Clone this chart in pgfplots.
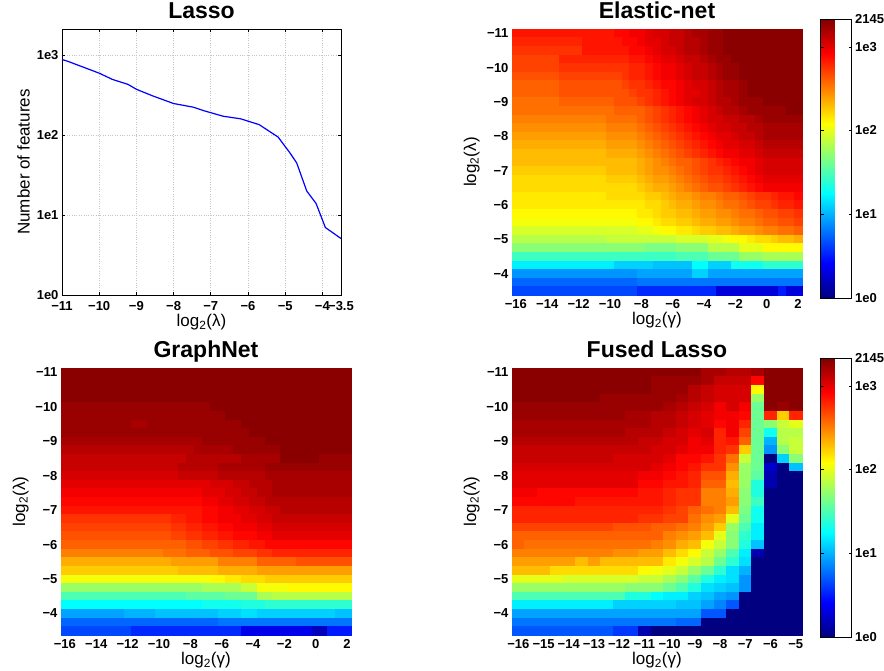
\documentclass[border=0pt]{standalone}
\usepackage{fontspec}
\setmainfont{Liberation Sans}
\usepackage{pgfplots}
\usepackage{pgfplotstable}
\pgfplotsset{compat=1.18}

% values: 20*log10(number of features); rows lambda=-11..-3.5 (step .25), cols gamma
\pgfplotstableread[header=false]{
57 57 57 57 57 57 57 57 57 57 57 57 57 58 58 59 59 60 61 61 62 62 63 64 64 65 65 66 66 66 66 66 66 66 66 66 66
56 56 56 56 56 56 56 56 56 57 57 57 57 57 58 58 59 60 60 61 62 62 63 63 64 65 65 66 66 66 66 66 66 66 66 66 66
55 55 55 55 55 55 55 55 55 57 57 57 57 57 57 58 58 59 60 61 61 62 63 63 64 65 65 66 66 66 66 66 66 66 66 66 66
54 54 54 54 54 54 56 56 56 56 56 56 56 56 56 57 57 58 59 60 60 61 62 62 63 64 65 65 66 66 66 66 66 66 66 66 66
54 54 54 54 54 54 55 55 55 55 55 55 55 55 55 56 56 57 58 59 59 60 61 62 62 63 64 65 65 66 66 66 66 66 66 66 66
53 53 53 53 53 53 54 54 54 54 54 54 54 54 55 56 56 57 58 59 59 60 61 62 62 63 64 65 65 66 66 66 66 66 66 66 66
52 52 52 52 52 52 53 53 53 53 53 53 53 53 54 55 55 56 57 58 58 59 60 61 61 62 63 64 64 65 66 66 66 66 66 66 66
52 52 52 52 52 52 53 53 53 53 53 53 53 53 53 54 55 55 56 57 58 59 60 60 61 62 63 64 64 65 66 66 66 66 66 66 66
51 51 51 51 51 51 52 52 52 52 52 52 52 53 53 53 54 55 56 57 58 59 60 61 61 62 63 63 64 65 65 65 66 66 66 66 66
51 51 51 51 51 51 51 51 51 51 51 51 51 52 52 52 52 53 54 55 56 57 58 59 60 61 62 63 63 64 65 65 65 65 65 66 66
50 50 50 50 50 50 50 50 50 50 50 50 51 51 51 51 52 53 54 55 56 57 58 59 60 61 61 62 62 63 63 64 65 65 65 65 65
49 49 49 49 49 49 49 49 49 49 49 49 50 50 50 50 51 52 53 54 55 56 57 58 59 60 61 61 62 62 63 63 64 64 64 64 64
48 48 48 48 48 48 48 48 48 48 48 48 49 49 49 49 50 51 52 53 54 55 56 57 58 59 60 60 61 62 62 63 64 64 64 64 64
47 47 47 47 47 47 47 47 47 47 47 47 48 48 48 48 49 50 51 52 53 54 55 56 57 58 59 60 60 61 61 62 63 63 63 63 63
46 46 46 46 46 46 46 46 46 46 46 46 47 47 47 47 48 49 50 51 52 53 54 55 56 57 58 59 59 60 60 61 62 62 62 62 62
46 46 46 46 46 46 46 46 46 46 46 46 46 46 46 46 47 48 49 50 51 52 52 53 54 55 56 57 58 59 59 60 61 61 61 61 61
45 45 45 45 45 45 45 45 45 45 45 45 46 46 46 46 47 48 49 49 50 51 52 53 54 55 55 56 57 58 59 60 61 61 61 61 61
44 44 44 44 44 44 44 44 44 44 44 44 45 45 45 45 46 47 48 48 49 50 51 52 53 54 54 55 56 57 58 59 60 60 60 60 60
44 44 44 44 44 44 44 44 44 44 44 44 44 44 44 44 45 46 47 47 48 49 50 51 52 53 53 54 55 56 57 58 59 59 59 59 59
43 43 43 43 43 43 43 43 43 43 43 43 44 44 44 44 44 45 45 46 47 48 48 49 50 50 51 52 52 53 54 55 55 56 57 57 58
43 43 43 43 43 43 43 43 43 43 43 43 43 43 43 43 43 44 44 45 46 47 47 48 49 49 50 51 51 52 53 54 54 55 56 56 57
42 42 42 42 42 42 42 42 42 42 42 42 42 42 42 42 43 43 44 45 45 46 46 47 48 48 49 49 50 51 51 52 53 53 54 54 55
41 41 41 41 41 41 41 41 41 41 41 41 41 41 41 41 42 42 43 44 44 45 45 46 47 47 48 48 49 50 50 51 52 52 53 53 54
39 39 39 39 39 39 39 39 39 39 39 39 39 39 39 39 40 40 41 42 42 43 43 44 45 45 46 46 47 48 48 49 50 50 51 51 52
37 37 37 37 37 37 37 37 37 37 37 37 38 38 38 38 38 38 38 38 38 39 39 39 39 40 40 41 42 42 43 44 44 45 46 46 47
34 34 34 34 34 34 34 34 34 34 34 34 34 34 34 34 34 33 33 33 33 34 34 34 34 37 37 37 37 40 40 40 42 42 42 42 42
29 29 29 29 29 29 29 29 29 29 29 29 29 29 29 29 29 29 29 29 29 30 30 30 30 32 32 32 32 35 35 35 36 36 36 36 36
24 24 24 24 24 24 24 24 24 24 24 24 24 22 22 22 22 22 21 21 21 21 21 25 25 22 22 22 26 26 26 26 28 28 28 28 28
18 18 18 18 18 18 18 18 18 18 18 18 18 18 18 18 19 19 19 19 19 19 19 22 22 19 19 19 19 19 19 19 19 19 19 19 19
15 15 15 15 15 15 15 15 15 15 15 15 15 15 15 15 16 16 16 16 16 16 16 16 16 16 16 16 16 16 16 16 16 16 16 16 16
13 13 13 13 13 13 13 13 13 13 13 13 13 13 13 13 11 11 11 11 11 11 11 11 11 11 6 6 6 6 6 6 6 6 10 6 6
}\ENtab

\pgfplotstableread[header=false]{
66 66 66 66 66 66 66 66 66 66 66 66 66 66 66 66 66 66 66 66 66 66 66 66 66 66 66 66 66 66 66 66 66 66 66 66 66
66 66 66 66 66 66 66 66 66 66 66 66 66 66 66 66 66 66 66 66 66 66 66 66 66 66 66 66 66 66 66 66 66 66 66 66 66
66 66 66 66 66 66 66 66 66 66 66 66 66 66 66 66 66 66 66 66 66 66 66 66 66 66 66 66 66 66 66 66 66 66 66 66 66
66 66 66 66 66 66 66 66 66 66 66 66 66 66 66 66 66 66 66 66 66 66 66 66 66 66 66 66 66 66 66 66 66 66 66 66 66
65 65 65 65 65 65 65 65 65 65 65 65 65 65 65 65 65 65 65 66 66 66 66 66 66 66 66 66 66 66 66 66 66 66 66 66 66
65 65 65 65 65 65 65 65 65 65 65 65 65 65 65 65 65 65 65 65 65 66 66 66 66 66 66 66 66 66 66 66 66 66 66 66 66
65 65 65 65 65 65 65 65 65 64 64 65 65 65 65 65 65 65 65 65 65 65 65 66 66 66 66 66 66 66 66 66 66 66 66 66 66
65 65 65 65 65 65 65 65 65 65 65 65 65 65 65 65 65 65 65 65 65 65 65 65 66 66 66 66 66 66 66 66 66 66 66 66 66
64 64 64 64 64 64 64 64 64 64 64 64 64 64 64 64 64 64 65 65 65 65 65 65 65 65 66 66 66 66 66 66 66 66 66 66 66
63 63 63 63 63 63 63 63 63 63 63 63 63 63 63 63 63 64 64 64 64 64 65 65 65 65 65 65 66 66 66 66 66 66 66 66 66
62 62 62 62 62 62 62 62 62 62 62 62 62 62 62 62 63 63 63 63 63 63 63 64 64 64 64 64 66 66 66 66 66 65 65 65 65
62 62 62 62 62 62 62 62 62 62 62 62 62 62 62 63 63 63 63 63 64 64 64 64 64 64 65 65 65 65 65 65 65 65 65 65 65
61 61 61 61 61 61 61 61 61 61 61 61 61 61 61 62 62 62 62 62 63 63 63 63 63 63 64 64 64 64 64 64 64 64 64 64 64
60 60 60 60 60 60 60 60 60 60 60 60 60 60 60 60 60 60 60 61 61 61 62 62 63 63 63 64 64 64 64 64 64 64 64 64 64
59 59 59 59 59 59 59 59 59 59 59 59 59 59 59 59 59 59 60 60 60 61 61 62 62 63 63 64 64 64 64 64 64 64 64 64 64
58 58 58 58 58 58 58 58 58 58 58 58 58 58 58 58 58 58 59 59 60 60 61 61 62 62 63 63 63 63 63 63 63 63 63 63 63
57 57 57 57 57 57 57 57 57 57 57 57 57 57 57 57 57 57 58 58 59 59 60 60 61 61 62 62 63 63 63 63 63 63 63 63 63
55 55 55 55 55 55 55 55 55 55 55 55 55 55 56 56 57 57 58 58 59 59 59 60 60 61 61 62 62 62 62 62 62 62 62 62 62
54 54 54 54 54 54 54 54 54 54 54 54 54 54 55 55 56 56 57 57 58 58 59 59 59 60 60 61 61 61 61 61 61 61 61 61 61
53 53 53 53 53 53 53 53 53 53 53 53 53 53 54 54 55 55 56 56 57 57 58 58 58 59 59 60 60 60 60 60 60 60 60 60 60
52 52 52 52 52 52 52 52 52 52 52 52 52 52 52 52 53 53 54 54 55 55 56 56 57 57 58 58 58 58 58 58 58 58 58 58 58
50 50 50 50 50 50 50 50 50 50 50 50 50 51 51 51 52 52 52 53 53 53 54 54 54 55 55 56 56 56 56 56 56 56 56 56 56
47 47 47 47 47 47 47 47 47 47 47 47 47 47 48 48 48 48 48 48 50 50 50 50 50 52 52 52 52 52 53 53 53 53 53 53 53
45 45 45 45 45 45 45 45 45 45 45 45 45 45 45 46 46 46 46 46 47 47 47 47 47 48 48 48 48 48 48 48 48 48 48 48 48
41 41 41 41 41 41 41 41 41 41 41 41 41 41 41 41 41 41 41 42 42 43 43 44 44 44 45 45 45 45 45 45 45 45 45 45 45
35 35 35 35 35 35 35 35 35 35 35 35 35 35 35 35 35 35 36 36 36 36 36 38 38 41 41 41 41 42 42 42 42 42 42 42 42
30 30 30 30 30 30 30 30 30 30 30 30 30 30 30 30 31 31 31 31 31 32 32 32 32 36 36 37 37 37 37 37 37 37 37 37 37
25 25 25 25 25 25 25 25 25 25 25 25 25 25 25 25 25 25 26 26 26 26 26 27 27 27 28 28 28 28 28 28 28 28 28 28 28
19 19 19 19 19 19 19 19 20 20 20 20 21 21 21 21 21 21 21 21 22 22 22 23 23 22 22 22 22 22 22 22 22 22 22 21 21
15 15 15 15 15 15 15 15 15 15 15 15 15 15 15 15 15 15 15 15 16 16 16 16 16 16 16 16 16 16 16 16 16 16 16 16 16
13 13 13 13 13 13 13 13 13 11 11 11 11 11 11 11 11 11 11 11 11 11 11 7 7 7 7 7 7 7 7 7 4 4 10 10 10
}\GNtab

\pgfplotstableread[header=false]{
66 66 66 66 66 66 66 66 66 66 66 66 66 66 66 64 64 63 63 64 66 66 66
66 66 66 66 66 66 66 66 66 66 66 65 65 65 65 64 62 62 62 58 66 66 66
66 66 66 66 66 66 66 66 66 66 66 65 65 65 63 62 61 61 61 42 66 66 66
66 66 66 66 66 66 66 65 65 65 65 65 65 64 63 62 61 61 61 35 66 66 66
65 65 65 65 65 65 65 65 65 65 65 65 64 63 62 61 59 61 59 32 66 65 66
65 65 65 65 65 65 65 65 65 64 64 63 63 62 61 60 59 59 58 32 56 45 56
64 64 64 64 64 64 64 64 64 64 64 63 63 62 61 60 58 59 56 32 34 38 40
64 64 64 64 64 64 64 64 64 63 63 63 62 61 60 61 56 59 54 32 26 37 37
63 63 63 63 63 63 63 63 63 63 62 62 61 61 59 60 56 57 52 32 20 37 38
62 62 62 62 62 62 62 62 62 62 62 61 61 60 59 59 56 55 45 32 18 34 38
62 62 62 62 62 62 62 62 61 61 61 61 60 58 58 57 55 51 38 32 0 22 34
61 61 61 61 61 61 61 61 61 61 61 60 59 58 57 55 55 49 35 32 5 0 21
60 60 60 60 60 60 60 60 60 60 59 59 58 57 56 53 53 47 35 31 3 0 0
60 60 60 60 60 60 60 60 60 60 58 58 57 57 56 52 52 46 35 27 3 0 0
59 59 58 58 58 58 58 58 58 58 57 57 56 55 55 50 50 47 34 27 0 0 0
58 58 58 58 58 57 57 57 57 57 57 57 56 55 55 50 50 48 34 29 0 0 0
56 56 56 56 56 56 56 56 56 56 56 56 55 54 52 51 50 46 33 26 0 0 0
56 56 56 56 56 56 56 56 56 56 55 55 54 54 51 49 48 40 32 26 0 0 0
54 54 54 54 54 54 54 54 53 53 53 52 52 51 50 48 45 35 30 24 0 0 0
52 52 52 52 52 52 52 52 52 52 52 52 50 49 48 46 40 34 28 24 0 0 0
52 51 51 51 51 51 51 51 51 51 51 50 49 47 46 41 38 34 27 21 0 0 0
50 50 50 50 50 50 50 50 49 49 48 48 46 44 42 38 35 30 24 3 0 0 0
48 48 48 48 48 46 48 46 46 46 46 46 43 41 39 37 32 28 23 0 0 0 0
46 46 46 44 44 44 44 44 44 44 42 41 40 38 35 32 28 23 20 0 0 0 0
40 40 40 40 39 39 39 39 39 39 38 38 36 34 31 27 24 23 18 0 0 0 0
35 35 35 35 35 35 35 35 35 34 34 34 32 30 27 23 22 21 18 0 0 0 0
30 30 30 30 30 30 30 30 30 27 27 25 24 24 22 21 19 18 0 0 0 0 0
24 24 24 24 24 24 24 24 22 22 22 22 22 21 21 19 17 14 0 0 0 0 0
19 19 19 19 19 19 19 19 19 19 19 19 19 19 19 14 14 0 0 0 0 0 0
16 16 16 16 16 16 16 16 16 16 16 16 16 15 15 0 0 0 0 0 0 0 0
14 14 14 14 14 14 14 14 12 12 3 0 0 0 0 0 0 0 0 0 0 0 0
}\FLtab

\pgfplotsset{
  panel/.style={
    scale only axis, anchor=south west, enlargelimits=false,
    axis line style={black, line width=0.8pt},
    tick style={black, line width=0.6pt}, major tick length=3pt, tick align=inside,
    tick label style={font=\bfseries\fontsize{13}{14}\selectfont},
    xticklabel style={yshift=-1pt},
    label style={font=\fontsize{17}{18}\selectfont},
    xlabel style={yshift=3pt},
    title style={font=\bfseries\fontsize{23}{25}\selectfont, at={(0.5,1)}, anchor=base, yshift=4pt},
  },
  hm/.style={
    axis on top, y dir=reverse, ymin=-11.125, ymax=-3.375,
    ytick={-11,-10,-9,-8,-7,-6,-5,-4},
    yticklabels={−11,−10,−9,−8,−7,−6,−5,−4},
    xlabel={log\textsubscript{2}(γ)}, ylabel={log\textsubscript{2}(λ)},
    colormap/jet, point meta min=0, point meta max=66.63,
    colorbar,
    colorbar style={at={(parent axis.north east)}, anchor=north west,
      xshift=10pt, yshift=10pt, scale only axis, width=31pt, height=279pt,
      ytick={0,20,40,60,66.63}, yticklabels={1e0,1e1,1e2,1e3,2145},
      tick label style={font=\bfseries\fontsize{13}{14}\selectfont},
      axis line style={black, line width=0.8pt}, tick style={black},
      major tick length=3pt, yticklabel pos=right},
  },
  cell/.style={scatter, only marks, mark=square*, point meta=explicit,
    scatter/use mapped color={draw=mapped color, fill=mapped color}, line width=0.3pt},
}

\begin{document}
\begin{tikzpicture}
\path[use as bounding box] (0pt,0pt) rectangle (884pt,671pt);

% ---------- Lasso ----------
\begin{axis}[panel, at={(62pt,376pt)}, width=279pt, height=266pt,
  title={Lasso}, ymode=log, xmin=-11, xmax=-3.5, ymin=1, ymax=2145,
  xtick={-11,-10,-9,-8,-7,-6,-5,-4,-3.5},
  xticklabels={−11,−10,−9,−8,−7,−6,−5,−4,−3.5},
  ytick={1,10,100,1000}, yticklabels={1e0,1e1,1e2,1e3}, yminorticks=false,
  xticklabel style={yshift=-2pt},
  grid=major, grid style={dotted, gray!45, line width=0.6pt},
  xlabel={log\textsubscript{2}(λ)}, ylabel={Number of features}]
\addplot[blue, line width=1.2pt] coordinates {
(-11,890) (-10.83,840) (-10,600) (-9.64,500) (-9.23,435) (-9,377) (-8.55,310)
(-8,250) (-7.47,225) (-7.2,204) (-6.66,173) (-6.2,161) (-5.7,136) (-5.19,95)
(-4.87,60) (-4.69,45) (-4.42,20) (-4.17,14) (-3.92,7) (-3.5,5.1)};
\end{axis}

% ---------- Elastic-net ----------
\begin{axis}[panel, hm, at={(512pt,376pt)}, width=290pt, height=266pt,
  title={Elastic-net}, xmin=-16.25, xmax=2.25,
  xtick={-16,-14,-12,-10,-8,-6,-4,-2,0,2},
  xticklabels={−16,−14,−12,−10,−8,−6,−4,−2,0,2}]
\pgfplotsinvokeforeach{0,...,36}{
  \addplot[cell, mark size=4.29pt, mark options={xscale=0.914}]
    table[x expr={-16+0.5*#1}, y expr={-11+0.25*\coordindex}, meta index=#1] {\ENtab};
}
\end{axis}

% ---------- GraphNet ----------
\begin{axis}[panel, hm, colorbar=false, at={(61pt,36pt)}, width=290pt, height=267pt,
  title={GraphNet}, xmin=-16.25, xmax=2.25,
  xtick={-16,-14,-12,-10,-8,-6,-4,-2,0,2},
  xticklabels={−16,−14,−12,−10,−8,−6,−4,−2,0,2}]
\pgfplotsinvokeforeach{0,...,36}{
  \addplot[cell, mark size=4.31pt, mark options={xscale=0.910}]
    table[x expr={-16+0.5*#1}, y expr={-11+0.25*\coordindex}, meta index=#1] {\GNtab};
}
\end{axis}

% ---------- Fused Lasso ----------
\begin{axis}[panel, hm, at={(512pt,36pt)}, width=290pt, height=267pt,
  title={Fused Lasso}, xmin=-16.25, xmax=-4.75,
  xtick={-16,-15,-14,-13,-12,-11,-10,-9,-8,-7,-6,-5},
  xticklabels={−16,−15,−14,−13,−12,−11,−10,−9,−8,−7,−6,−5}]
\pgfplotsinvokeforeach{0,...,22}{
  \addplot[cell, mark size=4.31pt, mark options={xscale=1.464}]
    table[x expr={-16+0.5*#1}, y expr={-11+0.25*\coordindex}, meta index=#1] {\FLtab};
}
\end{axis}
\end{tikzpicture}
\end{document}
